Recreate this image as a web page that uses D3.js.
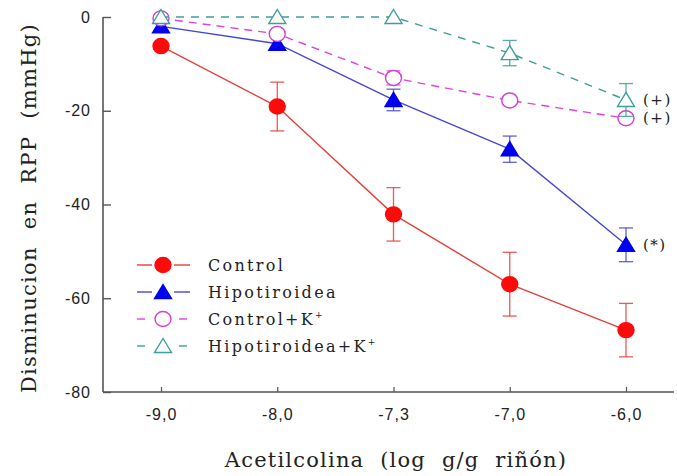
<!DOCTYPE html>
<html>
<head>
<meta charset="utf-8">
<script src="https://cdn.jsdelivr.net/npm/d3@7"></script>
<style>
  body { margin: 0; background: #ffffff; }
  svg { display: block; }
</style>
</head>
<body>
<div id="main_output"></div>
<script>
// doses (log g/g riñón) and mean change in RPP (mmHg) with SE
const dose_labels = ["-9,0", "-8,0", "-7,3", "-7,0", "-6,0"];
const y_ticks = [0, -20, -40, -60, -80];

const control_mean = [-6.2, -19.1, -42.1, -57.0, -66.8];
const control_err = [0, 5.2, 5.7, 6.8, 5.7];

const hipo_mean = [-2.0, -5.7, -17.7, -28.2, -48.6];
const hipo_err = [0, 0, 2.3, 2.8, 3.6];

const controlK_mean = [-0.3, -3.6, -13.0, -17.8, -21.6];
const controlK_err = [0, 0, 1.5, 0, 1.0];

const hipoK_mean = [0, 0, 0, -7.7, -17.7];
const hipoK_err = [0, 0, 0, 2.7, 3.5];

const series_names = ["Control", "Hipotiroidea", "Control+K", "Hipotiroidea+K"];
const significance = ["", "(*)", "(+)", "(+)"];

const red_line = "#e5403a";
const blue_line = "#4646d6";
const magenta_line = "#e040e0";
const teal_line = "#3e9e9a";

var width = 677, height = 476;
var margin = {top: 17, right: 3, bottom: 84, left: 103};

var svg = d3.select("#main_output")
  .append("svg")
  .attr("width", width)
  .attr("height", height)
  .style("font-family", "'DejaVu Serif', serif");

var x = d3.scalePoint().domain(dose_labels).range([161, 626]);
var y = d3.scaleLinear().domain([-80, 0]).range([height - margin.bottom, margin.top]);

var series = [
  {name: series_names[0], mean: control_mean, err: control_err, colour: red_line, mark: "#ff0a0a", shape: "circle", filled: true, dash: null, note: significance[0]},
  {name: series_names[1], mean: hipo_mean, err: hipo_err, colour: blue_line, mark: "#0000f0", shape: "triangle", filled: true, dash: null, note: significance[1]},
  {name: series_names[2], mean: controlK_mean, err: controlK_err, colour: magenta_line, mark: "#d43cd4", shape: "circle", filled: false, dash: "8,6", note: significance[2]},
  {name: series_names[3], mean: hipoK_mean, err: hipoK_err, colour: teal_line, mark: "#3e9e9a", shape: "triangle", filled: false, dash: "8,7", note: significance[3]}
];

// frame
var axis_col = "#555555";
svg.append("line")
  .attr("x1", margin.left).attr("x2", margin.left)
  .attr("y1", y(0)).attr("y2", y(-80))
  .attr("stroke", axis_col).attr("stroke-width", 1.6);
svg.append("line")
  .attr("x1", margin.left).attr("x2", width - margin.right)
  .attr("y1", y(-80)).attr("y2", y(-80))
  .attr("stroke", axis_col).attr("stroke-width", 1.6);

var yAxis = d3.axisLeft(y).tickValues(y_ticks).tickSize(-8).tickPadding(12)
  .tickFormat(function(d) { return d === 0 ? "0" : "-" + Math.abs(d); });
var gy = svg.append("g")
  .attr("transform", "translate(" + margin.left + ",0)")
  .call(yAxis);
gy.select(".domain").remove();
gy.selectAll("line").attr("stroke", axis_col).attr("stroke-width", 1.4);
gy.selectAll("text").attr("font-size", 16).attr("fill", "#222").style("letter-spacing", "1px");

var xAxis = d3.axisBottom(x).tickSize(-5).tickPadding(17);
var gx = svg.append("g")
  .attr("transform", "translate(0," + y(-80) + ")")
  .call(xAxis);
gx.select(".domain").remove();
gx.selectAll("line").attr("stroke", axis_col).attr("stroke-width", 1.2);
gx.selectAll("text").attr("font-size", 16).attr("fill", "#222").style("letter-spacing", "1px");

// axis titles
svg.append("text")
  .attr("x", 396).attr("y", 467)
  .attr("text-anchor", "middle")
  .attr("font-size", 21).attr("fill", "#222")
  .style("letter-spacing", "1.2px").style("word-spacing", "8px")
  .text("Acetilcolina (log g/g riñón)");

svg.append("text")
  .attr("transform", "translate(36,208) rotate(-90)")
  .attr("text-anchor", "middle")
  .attr("font-size", 21).attr("fill", "#222")
  .style("letter-spacing", "1.3px").style("word-spacing", "9px")
  .text("Disminucion en RPP (mmHg)");

function marker(g, s, cx, cy) {
  if (s.shape === "circle") {
    g.append("ellipse")
      .attr("cx", cx).attr("cy", cy).attr("rx", 8).attr("ry", 7.5)
      .attr("fill", s.filled ? s.mark : "#ffffff")
      .attr("stroke", s.mark).attr("stroke-width", 1.4);
  } else {
    g.append("path")
      .attr("d", "M" + cx + "," + (cy - 7.5) + "L" + (cx + 8.5) + "," + (cy + 6.5) + "L" + (cx - 8.5) + "," + (cy + 6.5) + "Z")
      .attr("fill", s.filled ? s.mark : "#ffffff")
      .attr("stroke", s.mark).attr("stroke-width", 1.4);
  }
}

var line = d3.line()
  .x(function(d, i) { return x(dose_labels[i]); })
  .y(function(d) { return y(d); });

series.forEach(function(s) {
  var g = svg.append("g");

  g.append("path")
    .datum(s.mean)
    .attr("fill", "none")
    .attr("stroke", s.colour)
    .attr("stroke-width", 1.4)
    .attr("stroke-dasharray", s.dash)
    .attr("d", line);

  s.mean.forEach(function(m, i) {
    var e = s.err[i];
    if (e <= 0) return;
    var cx = x(dose_labels[i]);
    [[m, m + e], [m, m - e]].forEach(function(p) {
      g.append("line")
        .attr("x1", cx).attr("x2", cx)
        .attr("y1", y(p[0])).attr("y2", y(p[1]))
        .attr("stroke", s.colour).attr("stroke-width", 1.3).attr("opacity", 0.85);
      g.append("line")
        .attr("x1", cx - 7).attr("x2", cx + 7)
        .attr("y1", y(p[1])).attr("y2", y(p[1]))
        .attr("stroke", s.colour).attr("stroke-width", 1.3).attr("opacity", 0.85);
    });
  });

  s.mean.forEach(function(m, i) {
    marker(g, s, x(dose_labels[i]), y(m));
  });

  if (s.note) {
    var last = s.mean[s.mean.length - 1];
    svg.append("text")
      .attr("x", x(dose_labels[4]) + 17)
      .attr("y", y(last) + 5)
      .attr("font-size", 15).attr("fill", "#222")
      .style("letter-spacing", "1.5px")
      .text(s.note);
  }
});

// legend
var legend = svg.append("g").attr("transform", "translate(137,265)");
series.forEach(function(s, i) {
  var row = legend.append("g").attr("transform", "translate(0," + (i * 27) + ")");
  var segs = s.dash ? [[0, 8], [42, 50]] : [[0, 15], [37, 53]];
  segs.forEach(function(sg) {
    row.append("line")
      .attr("x1", sg[0]).attr("x2", sg[1])
      .attr("y1", 0).attr("y2", 0)
      .attr("stroke", s.colour).attr("stroke-width", 1.4);
  });
  marker(row, s, 26, 0);
  var t = row.append("text")
    .attr("x", 71).attr("y", 6)
    .attr("font-size", 16).attr("fill", "#222")
    .style("letter-spacing", "2.3px")
    .text(s.name);
  if (s.name.slice(-2) === "+K") {
    t.append("tspan").attr("font-size", 9).attr("dy", -7).text("+");
  }
});
</script>
</body>
</html>
